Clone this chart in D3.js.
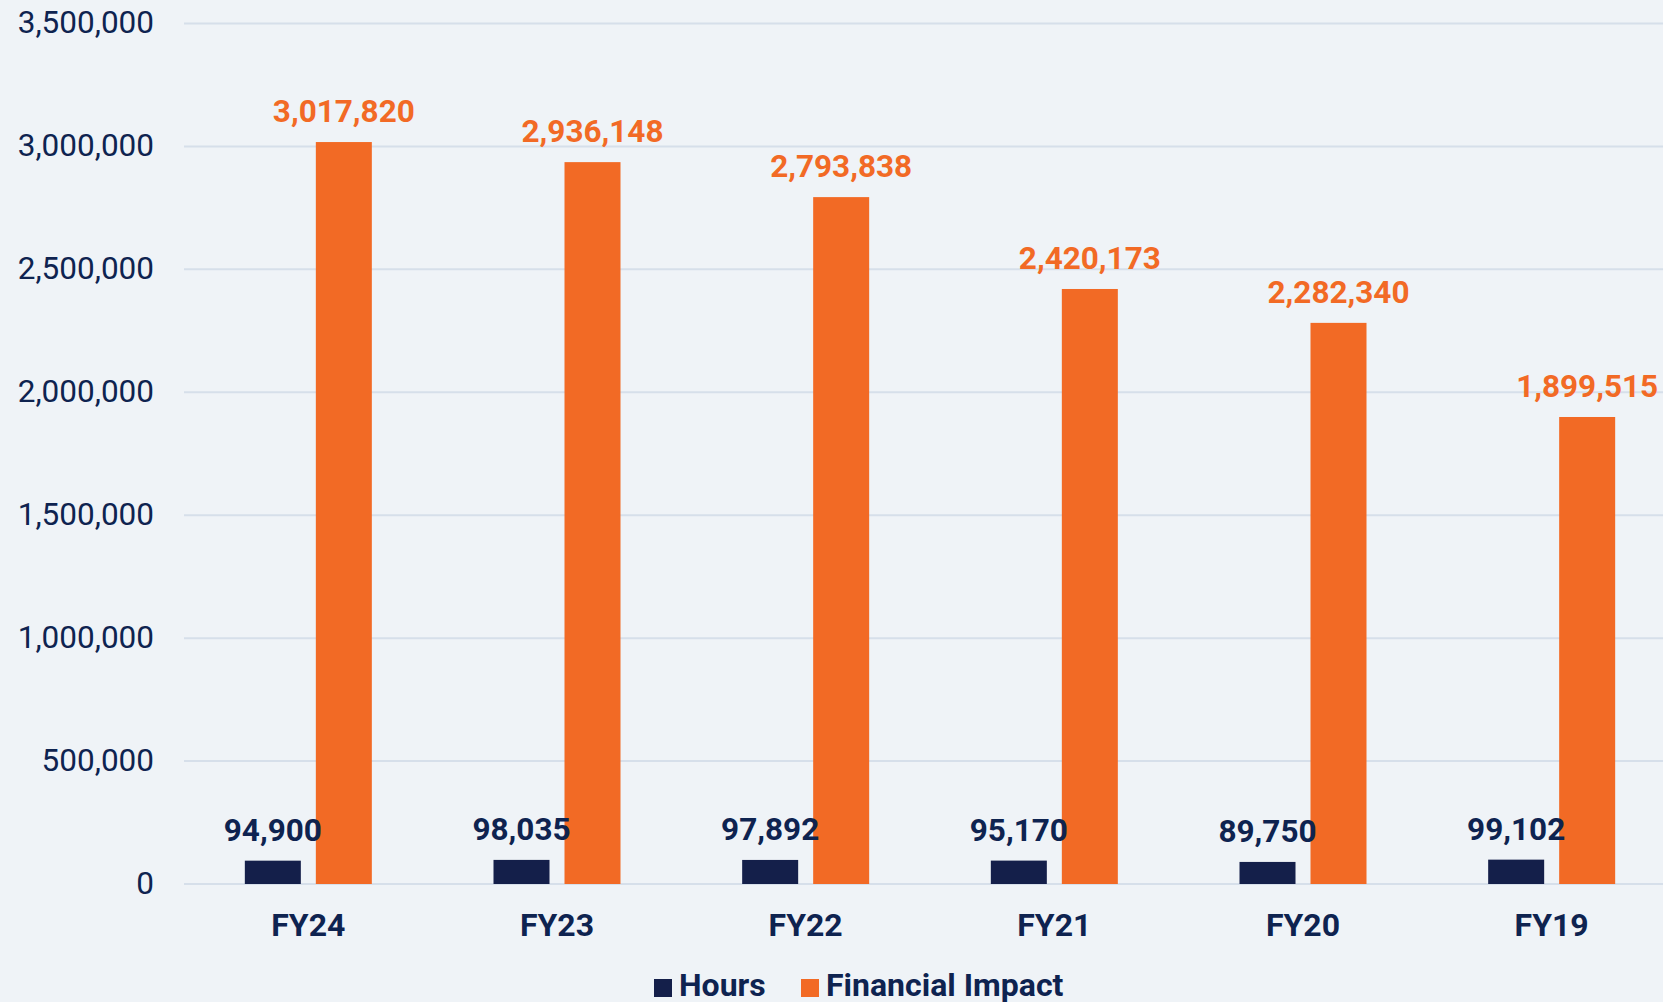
<!DOCTYPE html>
<html>
<head>
<meta charset="utf-8">
<script src="https://cdn.jsdelivr.net/npm/d3@7"></script>
<style>
  html, body { margin: 0; padding: 0; background: #eff3f7; overflow: hidden; }
  svg { display: block; font-family: Roboto, "Noto Sans", sans-serif; }
</style>
</head>
<body>
<svg id="chart" width="1663" height="1002"></svg>
<script>
const categories = ["FY24", "FY23", "FY22", "FY21", "FY20", "FY19"];
const seriesNames = ["Hours", "Financial Impact"];
const hours = [94900, 98035, 97892, 95170, 89750, 99102];
const financialImpact = [3017820, 2936148, 2793838, 2420173, 2282340, 1899515];
const yTicks = [0, 500000, 1000000, 1500000, 2000000, 2500000, 3000000, 3500000];

const colors = { "Hours": "#141f4a", "Financial Impact": "#f26a25" };
const labelColors = { "Hours": "#0e2350", "Financial Impact": "#f26a25" };
const textColor = "#0e2350";

const svg = d3.select("#chart");
svg.append("rect").attr("width", 1663).attr("height", 1002).attr("fill", "#eff3f7");

const rows = categories.map((c, i) => ({ cat: c, values: [
  { key: "Hours", value: hours[i] },
  { key: "Financial Impact", value: financialImpact[i] }
]}));

const x0 = d3.scaleBand().domain(categories).range([184, 1676]).paddingInner(0).paddingOuter(0);
const bw = x0.bandwidth();
const x1 = d3.scaleBand().domain(seriesNames).range([bw / 2 - 63.5, bw / 2 + 63.5]).paddingInner(15 / 71).paddingOuter(0);
const y = d3.scaleLinear().domain([0, 3500000]).range([884, 23.5]);

const yAxis = d3.axisLeft(y).tickValues(yTicks).tickFormat(d3.format(",")).tickSize(0).tickPadding(0);
const gy = svg.append("g").attr("transform", "translate(154,0)").call(yAxis);
gy.select(".domain").remove();
gy.selectAll("text").attr("fill", textColor).attr("font-size", 31.5).attr("font-family", "Roboto").attr("dy", "0.3em");

svg.append("g").selectAll("line").data(yTicks).join("line")
  .attr("x1", 184).attr("x2", 1663)
  .attr("y1", d => y(d)).attr("y2", d => y(d))
  .attr("stroke", "#d6dfea").attr("stroke-width", 2);

const groups = svg.append("g").selectAll("g").data(rows).join("g")
  .attr("transform", d => `translate(${x0(d.cat)},0)`);

groups.selectAll("rect").data(d => d.values).join("rect")
  .attr("x", d => x1(d.key))
  .attr("width", x1.bandwidth())
  .attr("y", d => y(d.value))
  .attr("height", d => y(0) - y(d.value))
  .attr("fill", d => colors[d.key]);

groups.selectAll("text").data(d => d.values).join("text")
  .attr("x", d => x1(d.key) + x1.bandwidth() / 2)
  .attr("y", d => y(d.value) - 20)
  .attr("text-anchor", "middle")
  .attr("font-size", 31.5)
  .attr("font-weight", "bold")
  .attr("fill", d => labelColors[d.key])
  .text(d => d3.format(",")(d.value));

const xAxis = d3.axisBottom(x0).tickSize(0).tickPadding(0);
const gx = svg.append("g").attr("transform", "translate(0,936)").call(xAxis);
gx.select(".domain").remove();
gx.selectAll("text").attr("fill", textColor).attr("font-size", 32).attr("font-weight", "bold")
  .attr("font-family", "Roboto").attr("dy", 0);

const legendItems = [
  { key: "Hours", x: 654, tx: 679 },
  { key: "Financial Impact", x: 801, tx: 826 }
];
const lg = svg.append("g");
legendItems.forEach(it => {
  lg.append("rect").attr("x", it.x).attr("y", 979).attr("width", 18).attr("height", 18).attr("fill", colors[it.key]);
  lg.append("text").attr("x", it.tx).attr("y", 996).attr("font-size", 32).attr("font-weight", "bold")
    .attr("fill", textColor).text(it.key);
});
</script>
</body>
</html>
